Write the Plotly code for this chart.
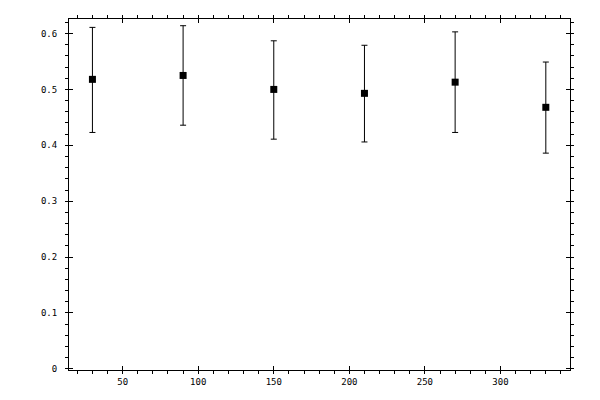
import numpy as np
import plotly.graph_objects as go

# angle-ish x positions and measured values with error limits
xs = [30, 90, 150, 210, 270, 330]
ys = [0.518, 0.525, 0.500, 0.493, 0.513, 0.468]
upper = [0.611, 0.614, 0.587, 0.579, 0.603, 0.549]
lower = [0.423, 0.436, 0.411, 0.406, 0.423, 0.386]

x_ticks = [50, 100, 150, 200, 250, 300]
y_ticks = [0, 0.1, 0.2, 0.3, 0.4, 0.5, 0.6]
y_labels = ['0', '0.1', '0.2', '0.3', '0.4', '0.5', '0.6']

x_range = [14.5, 346]
y_range = [-0.002, 0.626]

err_plus = np.array(upper) - np.array(ys)
err_minus = np.array(ys) - np.array(lower)

trace = go.Scatter(
    x=xs,
    y=ys,
    mode='markers',
    marker=dict(symbol='square', size=7, color='black'),
    error_y=dict(type='data', symmetric=False, array=err_plus,
                 arrayminus=err_minus, color='black', thickness=1, width=3),
    showlegend=False)

font = dict(family='DejaVu Sans Mono', size=9, color='black')
common = dict(showgrid=False, zeroline=False, automargin=False,
              tickcolor='black', tickwidth=1)

# main axes: line box, inner half of the major ticks, outer minor ticks, labels
xaxis = dict(range=x_range, tickvals=x_ticks, ticks='inside', ticklen=4,
             mirror='allticks', showline=True, linecolor='black', linewidth=1,
             ticklabelstandoff=3, tickfont=font,
             minor=dict(dtick=10, tick0=0, ticks='outside', ticklen=3,
                        tickcolor='black', showgrid=False),
             **common)
yaxis = dict(range=y_range, tickvals=y_ticks, ticktext=y_labels,
             ticks='inside', ticklen=4,
             mirror='allticks', showline=True, linecolor='black', linewidth=1,
             ticklabelstandoff=9, tickfont=font,
             minor=dict(dtick=0.02, tick0=0, ticks='outside', ticklen=3,
                        tickcolor='black', showgrid=False),
             **common)

# extra overlay axes for the outer half of major ticks and the top/right minors
xaxis2 = dict(overlaying='x', side='top', range=x_range, tickvals=x_ticks,
              ticks='outside', ticklen=3, showticklabels=False, showline=False,
              minor=dict(dtick=10, tick0=0, ticks='outside', ticklen=3,
                         tickcolor='black', showgrid=False),
              **common)
xaxis3 = dict(overlaying='x', side='bottom', range=x_range, tickvals=x_ticks,
              ticks='outside', ticklen=3, showticklabels=False, showline=False,
              **common)
yaxis2 = dict(overlaying='y', side='right', range=y_range, tickvals=y_ticks,
              ticks='outside', ticklen=3, showticklabels=False, showline=False,
              minor=dict(dtick=0.02, tick0=0, ticks='outside', ticklen=3,
                         tickcolor='black', showgrid=False),
              **common)
yaxis3 = dict(overlaying='y', side='left', range=y_range, tickvals=y_ticks,
              ticks='outside', ticklen=3, showticklabels=False, showline=False,
              **common)

# the page adds 8px of body margin, so margins are shifted to compensate
layout = go.Layout(
    width=600, height=400,
    margin=dict(l=61, r=38, t=11, b=38),
    paper_bgcolor='white', plot_bgcolor='white',
    xaxis=xaxis, yaxis=yaxis,
    xaxis2=xaxis2, xaxis3=xaxis3,
    yaxis2=yaxis2, yaxis3=yaxis3)

fig = go.Figure(data=[trace], layout=layout)
fig.write_html("out.html")
